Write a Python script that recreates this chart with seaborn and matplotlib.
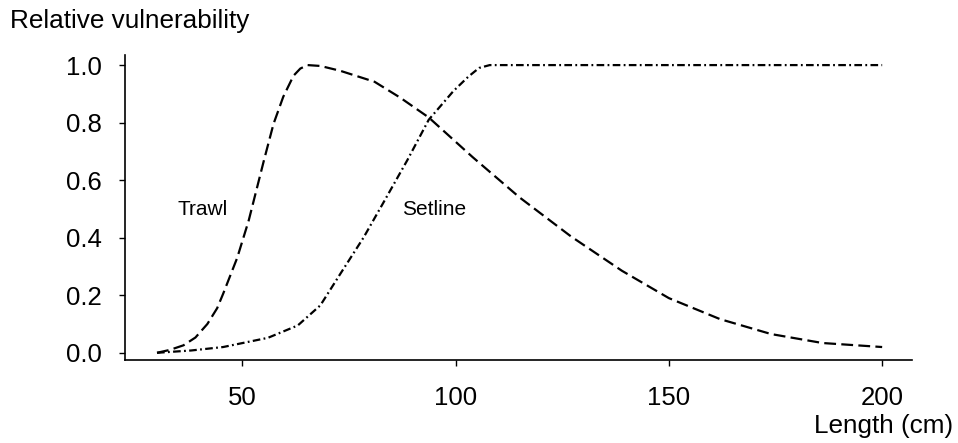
import matplotlib
matplotlib.use("Agg")
import matplotlib.pyplot as plt
import seaborn as sns
import pandas as pd

# Data
trawl_length = [30, 33, 36.2, 39, 41.8, 44.1, 45.5, 48.8, 51.5, 55, 57.3, 59.6, 62, 63.6,
                65.3, 68.3, 73, 81, 87, 93.7, 104, 115, 127, 139, 150, 162, 174, 186, 200]
trawl_vuln = [0.0, 0.01, 0.026, 0.053, 0.10, 0.155, 0.205, 0.33, 0.46, 0.665, 0.795,
              0.89, 0.963, 0.988, 1.0, 0.997, 0.98, 0.942, 0.887, 0.818, 0.68, 0.54, 0.405,
              0.285, 0.19, 0.117, 0.065, 0.034, 0.02]
setline_length = [30, 38, 45.5, 56, 63, 68.3, 73, 78.4, 83, 88.7, 93.7, 99.5, 103, 105.5,
                  108, 150, 200]
setline_vuln = [0.0, 0.008, 0.02, 0.052, 0.095, 0.165, 0.275, 0.40, 0.52, 0.67, 0.81,
                0.91, 0.96, 0.99, 1.0, 1.0, 1.0]
x_ticks = [50, 100, 150, 200]
y_ticks = [0.0, 0.2, 0.4, 0.6, 0.8, 1.0]
y_tick_labels = ["0.0", "0.2", "0.4", "0.6", "0.8", "1.0"]

sns.set_theme(style="ticks")
plt.rcParams["font.family"] = ["Liberation Sans", "DejaVu Sans"]
plt.rcParams["lines.scale_dashes"] = False

fig = plt.figure(figsize=(9.58, 4.43), dpi=100)
ax = fig.add_axes([0.1305, 0.1874, 0.952 - 0.1305, 0.8758 - 0.1874])

trawl_df = pd.DataFrame({"Length": trawl_length, "Vulnerability": trawl_vuln})
setline_df = pd.DataFrame({"Length": setline_length, "Vulnerability": setline_vuln})

sns.lineplot(data=trawl_df, x="Length", y="Vulnerability", ax=ax, color="black",
             linewidth=1.6, sort=False)
sns.lineplot(data=setline_df, x="Length", y="Vulnerability", ax=ax, color="black",
             linewidth=1.6, sort=False)
lines = ax.get_lines()
for ln in lines:
    ln.set_solid_joinstyle("round")
    ln.set_dash_joinstyle("round")
lines[0].set_dashes((8.5, 3.8))
lines[1].set_dashes((5.5, 2.4, 1.3, 2.4))

ax.set_xlim(22.5, 207)
ax.set_ylim(-0.025, 1.035)
ax.set_xticks(x_ticks)
ax.set_xticklabels([str(v) for v in x_ticks])
ax.set_yticks(y_ticks)
ax.set_yticklabels(y_tick_labels)
ax.set_xlabel("")
ax.set_ylabel("")
for s in ["top", "right"]:
    ax.spines[s].set_visible(False)
for s in ["left", "bottom"]:
    ax.spines[s].set_linewidth(1.2)
    ax.spines[s].set_color("black")
ax.tick_params(axis="both", labelsize=18.5, colors="black", length=4, width=1.0)
ax.tick_params(axis="x", pad=15)
ax.tick_params(axis="y", pad=13)

ax.text(46.7, 0.497, "Trawl", fontsize=15, ha="right", va="center", color="black")
ax.text(87.5, 0.497, "Setline", fontsize=15, ha="left", va="center", color="black")

fig.text(10 / 958, 1 - 21 / 443, "Relative vulnerability", fontsize=18.8, ha="left",
         va="center", color="black")
fig.text(953 / 958, 1 - 426 / 443, "Length (cm)", fontsize=18.8, ha="right",
         va="center", color="black")

fig.savefig("out.png", dpi=100, facecolor="white")
